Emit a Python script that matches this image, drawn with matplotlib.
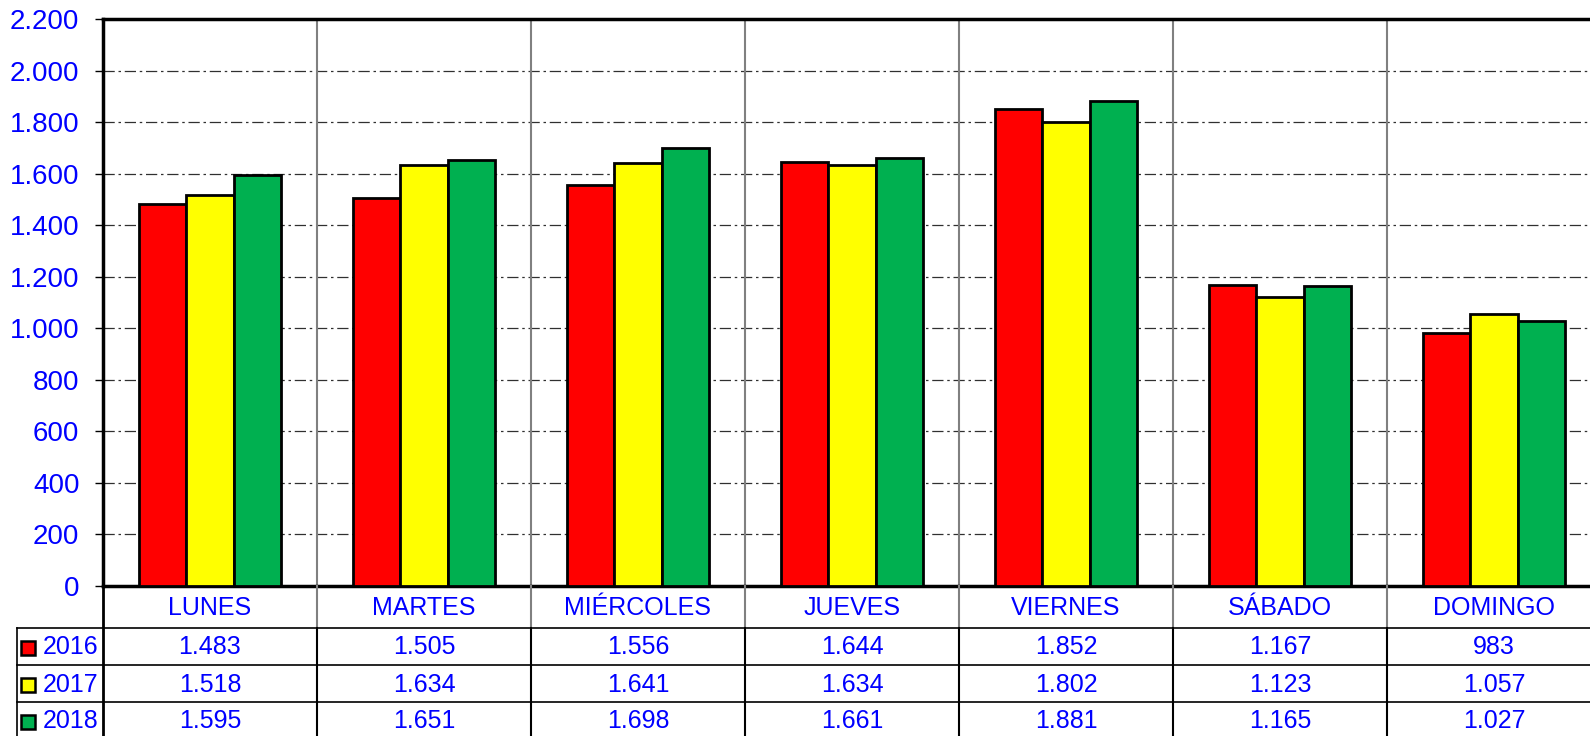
import matplotlib.pyplot as plt
import numpy as np

plt.rcParams['font.family'] = ['Liberation Sans', 'DejaVu Sans']

# data
dias = ['LUNES', 'MARTES', 'MIÉRCOLES', 'JUEVES', 'VIERNES', 'SÁBADO', 'DOMINGO']
anios = ['2016', '2017', '2018']
v2016 = [1483, 1505, 1556, 1644, 1852, 1167, 983]
v2017 = [1518, 1634, 1641, 1634, 1802, 1123, 1057]
v2018 = [1595, 1651, 1698, 1661, 1881, 1165, 1027]
colores = ['#FF0000', '#FFFF00', '#00B050']
series = [v2016, v2017, v2018]

azul = '#0000FF'


def fmt(v):
    return f'{v:,}'.replace(',', '.')


W, H = 1590, 736
fig = plt.figure(figsize=(W / 100, H / 100), dpi=100)
cat_w = 214
left, top, base = 103, 19, 586
ax = fig.add_axes([left / W, (H - base) / H, 7 * cat_w / W, (base - top) / H])

x = np.arange(len(dias))
bw = 0.222
for i, vals in enumerate(series):
    ax.bar(x + (i - 1) * bw, vals, width=bw, color=colores[i], edgecolor='black',
           linewidth=2, zorder=3)

ax.set_xlim(-0.5, 6.5)
ax.set_ylim(0, 2200)
ax.set_yticks(range(0, 2201, 200))
ax.set_yticklabels([fmt(t) for t in range(0, 2201, 200)], color=azul, fontsize=20)
ax.tick_params(axis='y', direction='out', length=6, width=1, pad=11)
ax.set_xticks([])
ax.yaxis.grid(True, linestyle=(0, (9, 3, 2, 3)), color='#303030', linewidth=0.9, zorder=1)
for b in np.arange(0.5, 7, 1):
    ax.axvline(b, color='#808080', linewidth=1.5, zorder=2)
for s in ['left', 'top', 'bottom']:
    ax.spines[s].set_linewidth(2.5)
ax.spines['right'].set_visible(False)

# table below
tb = fig.add_axes([left / W, 0, 7 * cat_w / W, (H - base) / H])
tb.set_xlim(-0.5, 6.5)
tb.set_ylim(H - base, 0)
tb.axis('off')
row_h = 37
cat_h = 42
x_left = -0.5 - 86 / cat_w

for i, d in enumerate(dias):
    tb.text(i, cat_h / 2 + 1, d, color=azul, fontsize=18, ha='center', va='center')
for r, vals in enumerate(series):
    yc = cat_h + row_h * r + row_h / 2 + 1
    for i, v in enumerate(vals):
        tb.text(i, yc, fmt(v), color=azul, fontsize=18, ha='center', va='center')
    tb.text(-0.5 - 60 / cat_w, yc, anios[r], color=azul, fontsize=18, ha='left', va='center')
    tb.plot([-0.5 - 75 / cat_w], [yc], marker='s', markersize=10, markerfacecolor=colores[r],
            markeredgecolor='black', markeredgewidth=1.8, clip_on=False)

# table grid
for r in range(3):
    yl = cat_h + row_h * r
    tb.plot([x_left, 6.6], [yl, yl], color='black', linewidth=1.2, clip_on=False)
tb.plot([x_left, x_left], [cat_h, H - base], color='black', linewidth=1.2, clip_on=False)
tb.plot([-0.5, -0.5], [0, H - base], color='black', linewidth=2, clip_on=False)
for b in np.arange(0.5, 7, 1):
    tb.plot([b, b], [0, cat_h], color='#808080', linewidth=1.5, clip_on=False)
    tb.plot([b, b], [cat_h, H - base], color='black', linewidth=1.5, clip_on=False)

fig.savefig('out.png', dpi=100)
